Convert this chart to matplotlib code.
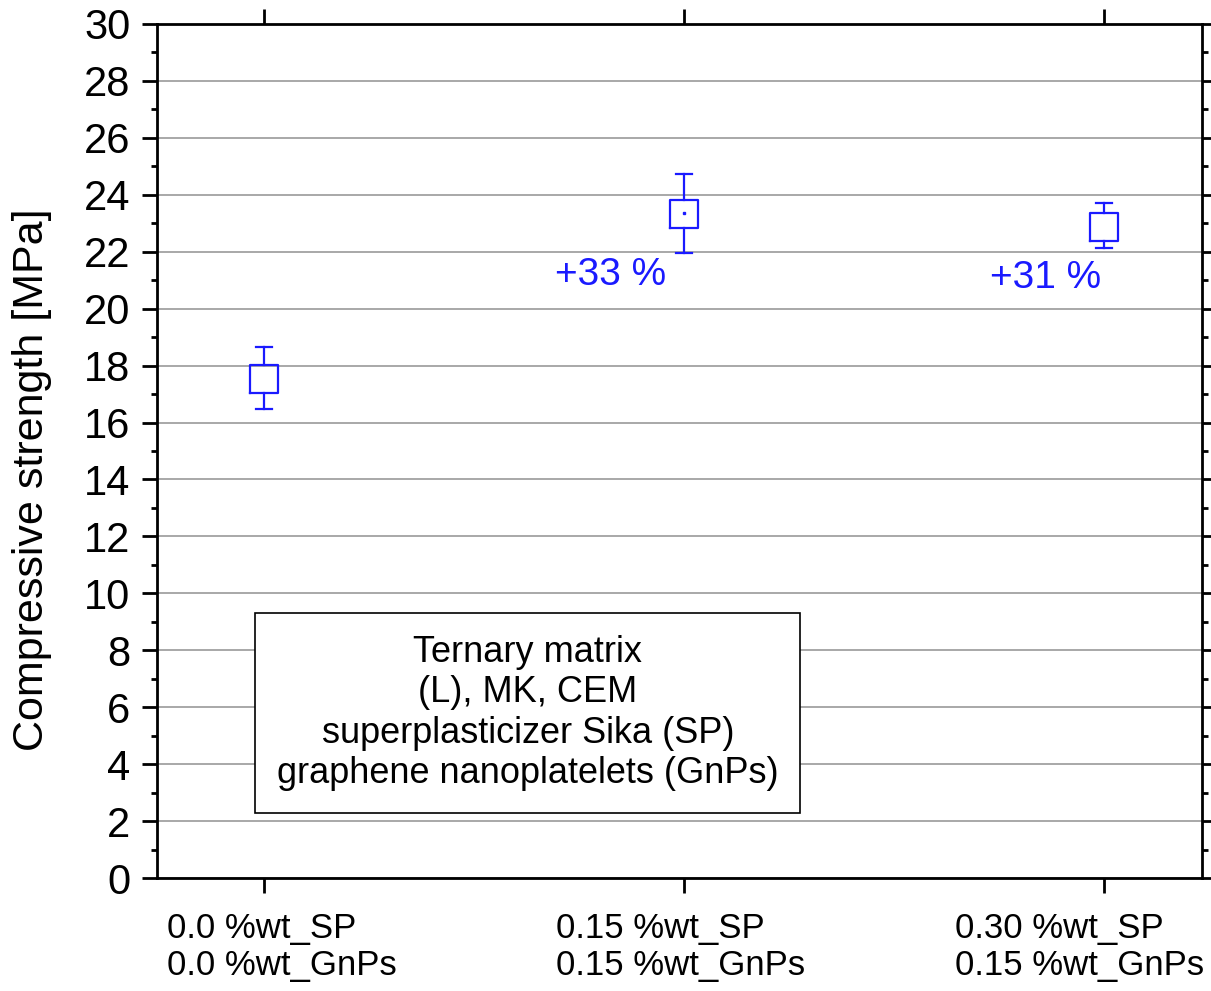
import matplotlib
matplotlib.use("Agg")
import matplotlib.pyplot as plt
import matplotlib.transforms as mtransforms
from matplotlib.ticker import MultipleLocator

plt.rcParams['font.family'] = ['Liberation Sans', 'DejaVu Sans']

categories = ["0.0 %wt_SP\n0.0 %wt_GnPs",
              "0.15 %wt_SP\n0.15 %wt_GnPs",
              "0.30 %wt_SP\n0.15 %wt_GnPs"]
whisker_low = [16.46, 21.96, 22.12]
box_low = [17.05, 22.85, 22.39]
box_high = [18.02, 23.81, 23.37]
whisker_high = [18.64, 24.74, 23.70]
means = [None, 23.37, None]
gain_labels = ["", "+33 %", "+31 %"]
gain_x = [None, 1.824, 2.86]
gain_y = [None, 21.18, 21.07]
legend_lines = ["Ternary matrix", "(L), MK, CEM",
                "superplasticizer Sika (SP)", "graphene nanoplatelets (GnPs)"]

# horizontal shift of each category label's left edge (data units)
label_shift = [-0.231, -0.305, -0.355]

blue = "#1a1aff"

fig = plt.figure(figsize=(12.11, 9.91), dpi=100)
ax = fig.add_axes([0.1296, 0.114, 0.863, 0.8618])

positions = [1, 2, 3]
stats = []
for i in range(3):
    med = (box_low[i] + box_high[i]) / 2
    stats.append(dict(whislo=whisker_low[i], q1=box_low[i], med=med,
                      q3=box_high[i], whishi=whisker_high[i], fliers=[]))
ax.bxp(stats, positions=positions, widths=0.066, showfliers=False,
       boxprops=dict(color=blue, linewidth=1.6),
       whiskerprops=dict(color=blue, linewidth=1.6),
       capprops=dict(color=blue, linewidth=1.6),
       medianprops=dict(linewidth=0), capwidths=0.038, zorder=3)
for p, m in zip(positions, means):
    if m is not None:
        ax.plot([p], [m], marker='s', ms=1.5, color=blue, zorder=4)

for g, gx, gy in zip(gain_labels, gain_x, gain_y):
    if g:
        ax.text(gx, gy, g, color=blue, fontsize=28, ha='center', va='center')

ax.set_xlim(0.745, 3.233)
ax.set_ylim(0, 30)
ax.yaxis.set_major_locator(MultipleLocator(2))
ax.yaxis.set_minor_locator(MultipleLocator(1))
ax.set_xticks(positions)
ax.set_xticklabels([])
trans = mtransforms.blended_transform_factory(ax.transData, ax.transAxes)
for p, lab, sh in zip(positions, categories, label_shift):
    ax.text(p + sh, -0.04, lab, transform=trans, fontsize=25, ha='left',
            va='top', linespacing=1.15)

ax.grid(axis='y', which='major', color='#999999', linewidth=1.2, zorder=0)
ax.set_axisbelow(True)

ax.tick_params(axis='both', which='major', direction='out', length=11,
               width=2, top=True, right=True)
ax.tick_params(axis='y', which='minor', direction='out', length=4.5,
               width=2, right=True)
ax.tick_params(axis='y', which='major', labelsize=30, pad=8)
for s in ax.spines.values():
    s.set_linewidth(2)

ax.set_ylabel("Compressive strength [MPa]", fontsize=31)
ax.yaxis.set_label_coords(-0.100, 0.466)

ax.text(0.355, 0.193, "\n".join(legend_lines), transform=ax.transAxes,
        fontsize=26, ha='center', va='center', linespacing=1.2,
        bbox=dict(boxstyle='square,pad=0.6', facecolor='white',
                  edgecolor='black', linewidth=1.2), zorder=5)

fig.savefig("out.png", dpi=100)
